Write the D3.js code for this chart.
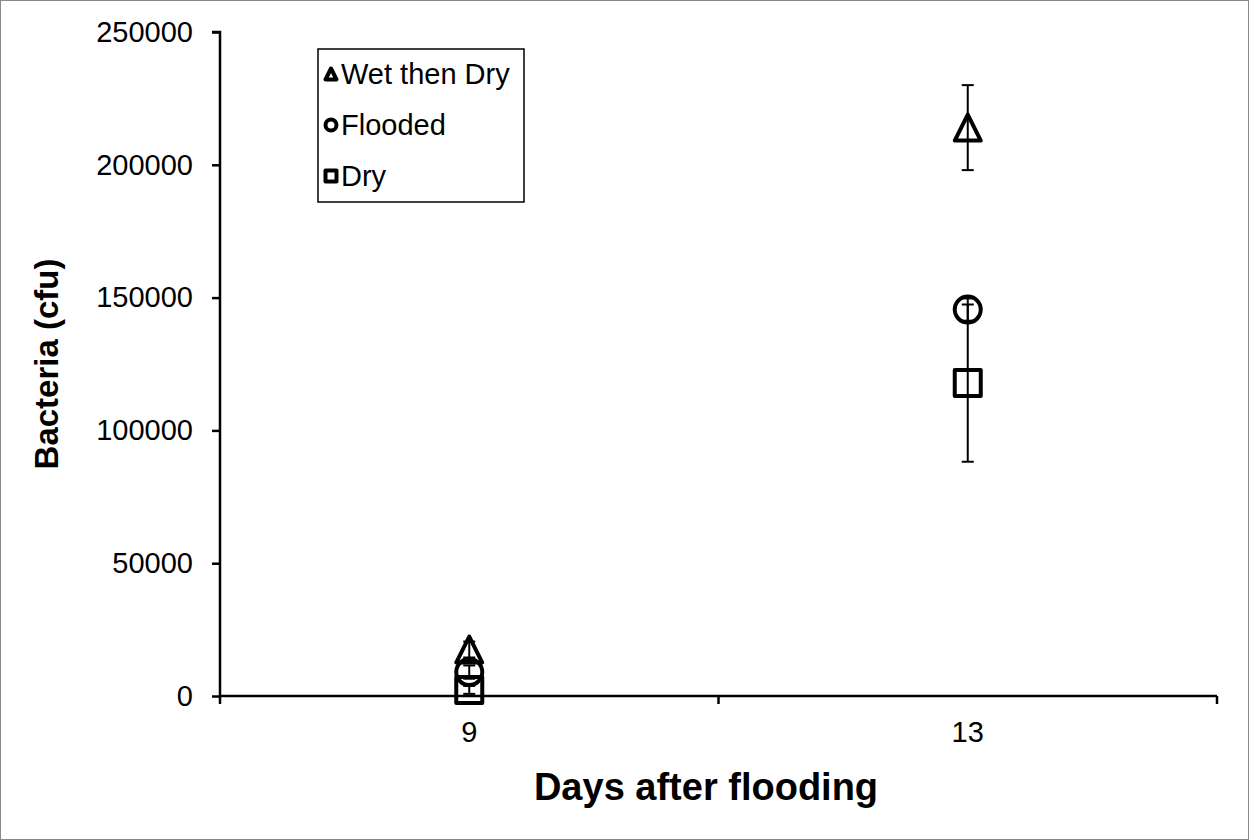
<!DOCTYPE html>
<html>
<head>
<meta charset="utf-8">
<script src="https://cdn.jsdelivr.net/npm/d3@7"></script>
<style>
  body { margin: 0; background: #fff; }
  svg { display: block; font-family: "Liberation Sans", Arial, sans-serif; }
</style>
</head>
<body>
<script>
// chart values
var days = ["9", "13"];
var series = ["Wet then Dry", "Flooded", "Dry"];
var shapes = ["triangle", "circle", "square"];
var means = {
  "Wet then Dry": [17500, 214000],
  "Flooded":      [9000, 145500],
  "Dry":          [2300, 117800]
};
var errs = {
  "Wet then Dry": [3000, 16000],
  "Flooded":      [2500, 4200],
  "Dry":          [1500, 29600]
};
var yTicks = [0, 50000, 100000, 150000, 200000, 250000];

var W = 1249, H = 840;
var margin = {top: 32, left: 220},
    width = 1217 - margin.left,
    height = 696 - margin.top;

var svg = d3.select("body").append("svg")
    .attr("width", W)
    .attr("height", H);

// outer frame
svg.append("rect")
    .attr("x", 0.5).attr("y", 0.5)
    .attr("width", W - 1).attr("height", H - 1)
    .attr("fill", "#fff").attr("stroke", "#888").attr("stroke-width", 1);

var g = svg.append("g")
    .attr("transform", "translate(" + margin.left + "," + margin.top + ")");

var x = d3.scaleBand().domain(days).range([0, width]).padding(0);
var y = d3.scaleLinear().domain([0, 250000]).range([height, 0]);

// y axis
var yAxis = d3.axisLeft(y).tickValues(yTicks).tickSize(8).tickPadding(19).tickFormat(d3.format("d"));
var ya = g.append("g").call(yAxis);
ya.select(".domain").attr("stroke-width", 2.5).attr("d", "M-8,0H0V" + height);
ya.selectAll(".tick line").attr("stroke-width", 2.5);
ya.selectAll(".tick text").attr("font-size", 29).attr("fill", "#000");

// x axis: ticks at category boundaries, labels centred
var xb = g.append("g").attr("transform", "translate(0," + height + ")");
xb.append("line").attr("x1", 0).attr("x2", width).attr("stroke", "#000").attr("stroke-width", 2.5);
var bounds = days.map(function(d) { return x(d); }).concat([width]);
xb.selectAll(".xt").data(bounds).enter().append("line")
    .attr("x1", function(d) { return d; }).attr("x2", function(d) { return d; })
    .attr("y1", 0).attr("y2", 8)
    .attr("stroke", "#000").attr("stroke-width", 2.5);
xb.selectAll(".xl").data(days).enter().append("text")
    .attr("x", function(d) { return x(d) + x.bandwidth() / 2; })
    .attr("y", 46)
    .attr("text-anchor", "middle")
    .attr("font-size", 29)
    .text(function(d) { return d; });

// axis titles
svg.append("text")
    .attr("x", 706).attr("y", 800)
    .attr("text-anchor", "middle")
    .attr("font-size", 38).attr("font-weight", "bold")
    .text("Days after flooding");
svg.append("text")
    .attr("transform", "translate(58," + (margin.top + height / 2) + ") rotate(-90)")
    .attr("text-anchor", "middle")
    .attr("font-size", 33).attr("font-weight", "bold")
    .text("Bacteria (cfu)");

function marker(sel, shape, s) {
  if (shape === "circle") {
    sel.append("circle").attr("r", s / 2);
  } else if (shape === "square") {
    sel.append("rect").attr("x", -s / 2).attr("y", -s / 2).attr("width", s).attr("height", s);
  } else {
    sel.append("path").attr("d", "M0," + (-s / 2) + "L" + (s / 2) + "," + (s / 2) + "L" + (-s / 2) + "," + (s / 2) + "Z");
  }
}

// error bars then markers
series.forEach(function(name) {
  days.forEach(function(d, j) {
    var cx = x(d) + x.bandwidth() / 2;
    var m = means[name][j], e = errs[name][j];
    var eb = g.append("g").attr("stroke", "#000").attr("stroke-width", 2);
    eb.append("line").attr("x1", cx).attr("x2", cx).attr("y1", y(m + e)).attr("y2", y(m - e));
    eb.append("line").attr("x1", cx - 6).attr("x2", cx + 6).attr("y1", y(m + e)).attr("y2", y(m + e));
    eb.append("line").attr("x1", cx - 6).attr("x2", cx + 6).attr("y1", y(m - e)).attr("y2", y(m - e));
  });
});
series.forEach(function(name, i) {
  days.forEach(function(d, j) {
    var cx = x(d) + x.bandwidth() / 2;
    var mg = g.append("g")
        .attr("transform", "translate(" + cx + "," + y(means[name][j]) + ")")
        .attr("fill", "none").attr("stroke", "#000").attr("stroke-width", 4)
        .attr("stroke-linejoin", "round");
    marker(mg, shapes[i], 26);
  });
});

// legend
var lg = svg.append("g").attr("transform", "translate(318,49)");
lg.append("rect").attr("width", 206).attr("height", 153)
    .attr("fill", "#fff").attr("stroke", "#000").attr("stroke-width", 1.5);
series.forEach(function(name, i) {
  var row = lg.append("g").attr("transform", "translate(0," + (25 + i * 51) + ")");
  var mk = row.append("g").attr("transform", "translate(13,0)")
      .attr("fill", "none").attr("stroke", "#000").attr("stroke-width", 4)
      .attr("stroke-linejoin", "round");
  marker(mk, shapes[i], 11);
  row.append("text").attr("x", 23).attr("y", 10).attr("font-size", 29).text(name);
});
</script>
</body>
</html>
